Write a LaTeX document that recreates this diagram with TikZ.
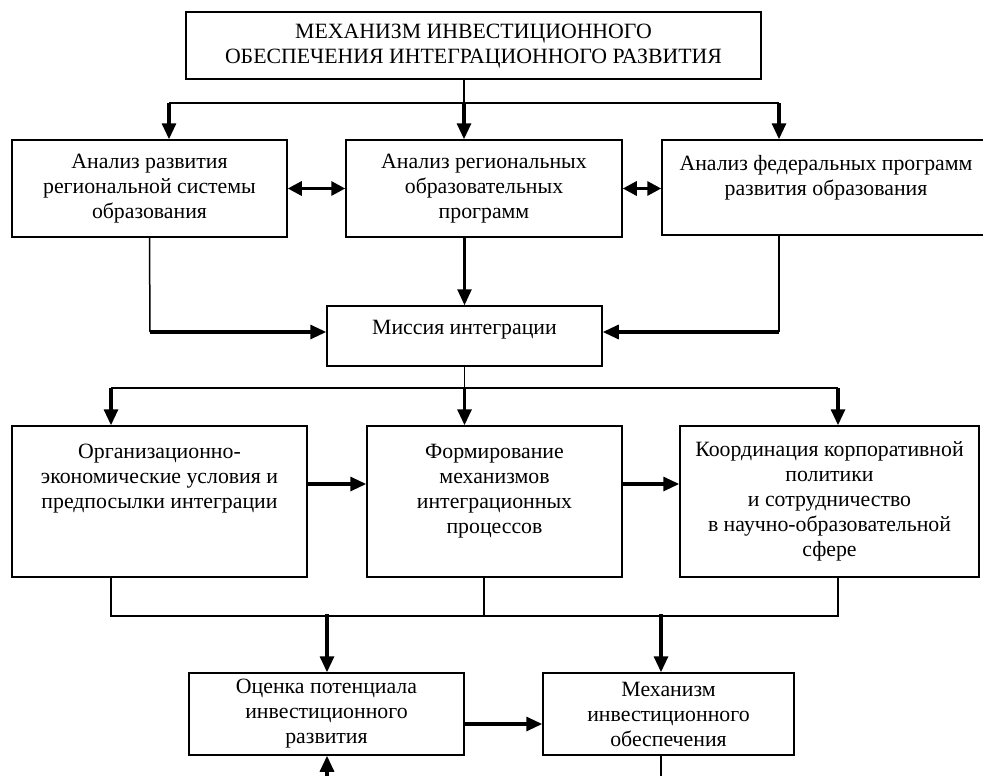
\documentclass[tikz,border=0pt]{standalone}
\usepackage{fontspec}
\setmainfont{Liberation Serif}
\usetikzlibrary{arrows.meta}
\begin{document}
\begin{tikzpicture}[x=1pt,y=-1pt,
  box/.style={draw, line width=1.5pt, inner sep=0pt, align=center,
    font=\fontsize{21.8}{25}\selectfont},
  thinln/.style={line width=1.5pt},
  barln/.style={line width=2.2pt},
  thk/.style={line width=3.2pt, -{Triangle[length=16pt,width=14pt]}},
  bi/.style={line width=3.2pt, {Triangle[length=14pt,width=14pt]}-{Triangle[length=14pt,width=14pt]}}]
\useasboundingbox (0,0) rectangle (983,776);
\clip (0,0) rectangle (983,776);
\fill[white] (0,0) rectangle (983,776);

% boxes
\node[box, minimum width=575pt, minimum height=67pt, text depth=3pt] (top) at (473.5,45.5)
  {МЕХАНИЗМ ИНВЕСТИЦИОННОГО\\ОБЕСПЕЧЕНИЯ ИНТЕГРАЦИОННОГО РАЗВИТИЯ};
\node[box, minimum width=275pt, minimum height=97pt] (a1) at (149.5,188.5)
  {Анализ развития\\региональной системы\\образования};
\node[box, minimum width=276pt, minimum height=97pt] (a2) at (484,188.5)
  {Анализ региональных\\образовательных\\программ};
\node[box, minimum width=328pt, minimum height=95pt] (a3) at (826,187.5)
  {Анализ федеральных программ\\развития образования\\~};
\node[box, minimum width=275pt, minimum height=60pt] (m) at (464.5,336)
  {Миссия интеграции\\[-8pt]~};
\node[box, minimum width=295pt, minimum height=151pt] (b1) at (159.5,501.5)
  {Организационно-\\экономические условия и\\предпосылки интеграции\\~\\~};
\node[box, minimum width=255pt, minimum height=151pt] (b2) at (494.5,501.5)
  {Формирование\\механизмов\\интеграционных\\процессов\\~};
\node[box, minimum width=299pt, minimum height=151pt] (b3) at (829.5,501.5)
  {Координация корпоративной\\политики\\и сотрудничество\\в научно-образовательной\\сфере};
\node[box, minimum width=275pt, minimum height=82pt] (c1) at (326.5,714)
  {Оценка потенциала\\инвестиционного\\развития};
\node[box, minimum width=251pt, minimum height=82pt] (c2) at (668.5,714)
  {Механизм\\инвестиционного\\обеспечения};

% junction coordinates
\coordinate (j1) at (464,103);
\coordinate (h1) at (169,103);
\coordinate (h3) at (779,103);
\coordinate (k1) at (150,332);
\coordinate (k3) at (779,332);
\coordinate (j2) at (464.5,388);
\coordinate (g1) at (111,388);
\coordinate (g3) at (838,388);
\coordinate (r2) at (0,484);
\coordinate (n1) at (111,616);
\coordinate (n2) at (484,616);
\coordinate (n3) at (838,616);
\coordinate (d1) at (327,614);
\coordinate (d2) at (661,614);
\coordinate (r3) at (0,724);
\coordinate (e1) at (327,776);
\coordinate (e2) at (661,776);

% top to row 1
\draw[thinln] (top.south -| j1) -- (j1);
\draw[barln] (h1) -- (h3);
\draw[thk] (h1) -- (h1 |- a1.north);
\draw[thk] (j1) -- (j1 |- a2.north);
\draw[thk] (h3) -- (h3 |- a3.north);

% row 1 links
\draw[bi] (a1.east) -- (a2.west);
\draw[bi] (a2.east) -- (a2.east -| a3.west);

% row 1 to mission
\draw[thk, line width=2.6pt] (a2.south -| m.north) -- (m.north);
\draw[thinln] (a1.south) -- (k1);
\draw[thk] (k1) -- (k1 -| m.west);
\draw[thinln] (a3.south -| k3) -- (k3);
\draw[thk] (k3) -- (k3 -| m.east);

% mission to row 2
\draw[thinln] (m.south) -- (j2);
\draw[barln] (g1) -- (g3);
\draw[thk] (g1) -- (g1 |- b1.north);
\draw[thk] (j2) -- (j2 |- b2.north);
\draw[thk] (g3) -- (g3 |- b3.north);

% row 2 links
\draw[thk] (b1.east |- r2) -- (b2.west |- r2);
\draw[thk] (b2.east |- r2) -- (b3.west |- r2);

% row 2 to bottom
\draw[thinln] (b1.south -| n1) -- (n1) -- (n3) -- (b3.south -| n3);
\draw[thinln] (b2.south -| n2) -- (n2);
\draw[thk] (d1) -- (d1 |- c1.north);
\draw[thk] (d2) -- (d2 |- c2.north);

% bottom row
\draw[thk] (c1.east |- r3) -- (c2.west |- r3);
\draw[thinln] (c2.south -| e2) -- (e2);
\draw[thk] (e1) -- (e1 |- c1.south);
\end{tikzpicture}
\end{document}
